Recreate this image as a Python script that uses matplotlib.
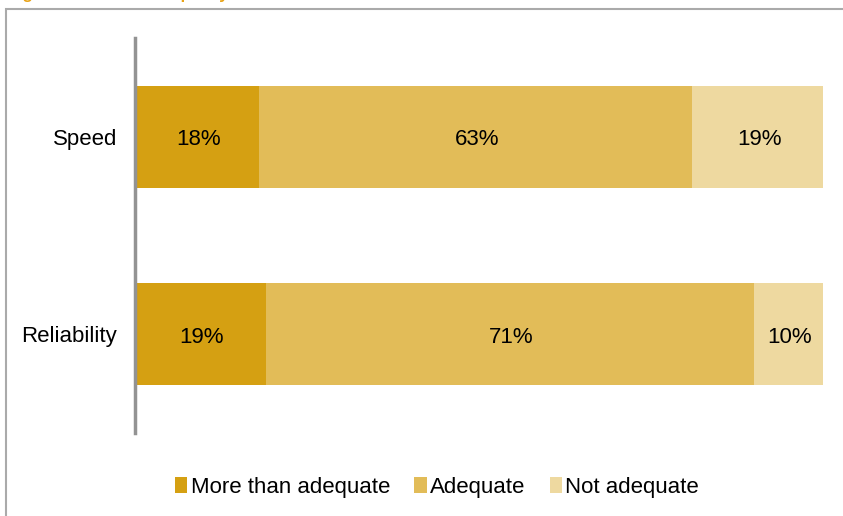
import matplotlib

matplotlib.use("Agg")
import matplotlib.pyplot as plt
from matplotlib.patches import Patch, Rectangle
import numpy as np

plt.rcParams["font.family"] = ["Liberation Sans", "DejaVu Sans"]

categories = ["Speed", "Reliability"]
series_names = ["More than adequate", "Adequate", "Not adequate"]
more_than = [18, 19]
adequate = [63, 71]
not_adequate = [19, 10]
colors = ["#D5A012", "#E2BC58", "#EED9A0"]

fig = plt.figure(figsize=(8.43, 5.16), dpi=100)

# outer frame (partly cut off at right/bottom like the source)
fig.patches.append(Rectangle((6 / 843, -0.1), 2.0, (1 - 9 / 516) + 0.1,
                             transform=fig.transFigure, fill=False,
                             edgecolor="#AAAAAA", linewidth=1.5))
# title sits above the crop, only its descenders show
fig.text(8 / 843, 1 + 1 / 516, "Figure 4: Broadband quality", color="#E8A317",
         fontsize=12, fontweight="bold", va="baseline", ha="left")

ax = fig.add_axes([135 / 843, 1 - 433 / 516, 688 / 843, 395 / 516])

y = np.arange(len(categories))
left = np.zeros(len(categories))
for name, vals, col in zip(series_names, [more_than, adequate, not_adequate], colors):
    vals = np.array(vals, dtype=float)
    ax.barh(y, vals, left=left, height=0.515, color=col, label=name)
    for yi, l, v in zip(y, left, vals):
        ax.annotate(f"{v:.0f}%", (l + v / 2, yi), xytext=(1, -2),
                    textcoords="offset points", ha="center", va="center",
                    fontsize=16, color="#000000")
    left += vals

ax.set_xlim(0, 100)
ax.set_ylim(1.5, -0.5)
ax.set_yticks(y)
ax.set_yticklabels(categories, fontsize=16)
ax.tick_params(axis="y", length=0, pad=13)
ax.set_xticks([])
for s in ["top", "right", "bottom"]:
    ax.spines[s].set_visible(False)
ax.spines["left"].set_color("#939393")
ax.spines["left"].set_linewidth(2.5)

handles = [Patch(facecolor=c, edgecolor="none") for c in colors]
fig.legend(handles, series_names, loc="center", bbox_to_anchor=(437 / 843, 1 - 487 / 516),
           ncol=3, frameon=False, fontsize=16, handlelength=0.55, handleheight=0.7,
           handletextpad=0.15, columnspacing=1.1)

fig.savefig("out.png", dpi=100)
